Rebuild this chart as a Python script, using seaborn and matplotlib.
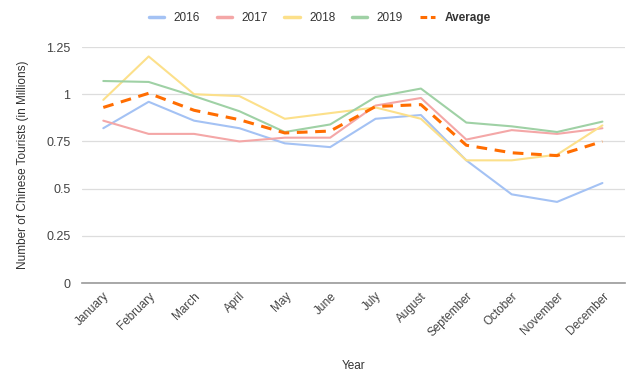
import pandas as pd
import numpy as np
import matplotlib
matplotlib.use("Agg")
import matplotlib.pyplot as plt
import seaborn as sns
from matplotlib.ticker import FuncFormatter

months = ["January", "February", "March", "April", "May", "June", "July",
          "August", "September", "October", "November", "December"]
y2016 = [0.82, 0.96, 0.86, 0.82, 0.74, 0.72, 0.87, 0.89, 0.65, 0.47, 0.43, 0.53]
y2017 = [0.86, 0.79, 0.79, 0.75, 0.77, 0.77, 0.94, 0.98, 0.76, 0.81, 0.79, 0.82]
y2018 = [0.97, 1.20, 1.00, 0.99, 0.87, 0.90, 0.93, 0.87, 0.65, 0.65, 0.68, 0.835]
y2019 = [1.07, 1.065, 0.99, 0.91, 0.80, 0.84, 0.985, 1.03, 0.85, 0.83, 0.80, 0.855]
average = [0.93, 1.005, 0.915, 0.865, 0.795, 0.805, 0.935, 0.945, 0.73, 0.69, 0.675, 0.75]

series = {"2016": y2016, "2017": y2017, "2018": y2018, "2019": y2019, "Average": average}
colors = {"2016": "#a4c2f4", "2017": "#f4a7a7", "2018": "#fce08a",
          "2019": "#9fd1a5", "Average": "#ff6d01"}

rows = []
for name, vals in series.items():
    for i, v in enumerate(vals):
        rows.append({"month": i, "value": v, "series": name})
df = pd.DataFrame(rows)

sns.set_style("white")
plt.rcParams["font.family"] = ["Liberation Sans", "DejaVu Sans"]

fig = plt.figure(figsize=(6.27, 3.76), dpi=100)
ax = fig.add_axes([0.13, 0.247, 0.867, 0.628])

# yearly lines
years = df[df["series"] != "Average"]
sns.lineplot(data=years, x="month", y="value", hue="series", palette=colors,
             linewidth=1.5, ax=ax, legend=False)
# average dashed
sns.lineplot(data=df[df["series"] == "Average"], x="month", y="value",
             color=colors["Average"], linewidth=2.2, ax=ax, legend=False,
             linestyle=(0, (3.5, 2.5)))

ax.set_xlim(-0.48, 11.5)
ax.set_ylim(0, 1.25)
ax.set_yticks([0, 0.25, 0.5, 0.75, 1, 1.25])
ax.yaxis.set_major_formatter(FuncFormatter(lambda v, p: f"{v:g}"))
ax.set_xticks(range(12))
ax.set_xticklabels(months, rotation=45, ha="right", rotation_mode="anchor",
                   fontsize=8.5, color="#444444")
ax.tick_params(axis="y", labelsize=9, labelcolor="#444444", length=0, pad=8)
ax.tick_params(axis="x", length=0, pad=5)
ax.grid(axis="y", color="#dddddd", linewidth=0.9)
ax.set_axisbelow(True)
for s in ["top", "right", "left"]:
    ax.spines[s].set_visible(False)
ax.spines["bottom"].set_color("#999999")
ax.spines["bottom"].set_linewidth(1.2)

ax.set_xlabel("Year", fontsize=8.5, color="#333333", labelpad=15)
ax.set_ylabel("Number of Chinese Tourists (in Millions)", fontsize=8.5,
              color="#333333", labelpad=12)

# legend
handles = []
labels = []
for name in series:
    if name == "Average":
        h, = ax.plot([], [], color=colors[name], linewidth=2.2, linestyle=(0, (2.2, 1.2)))
    else:
        h, = ax.plot([], [], color=colors[name], linewidth=2.5)
    handles.append(h)
    labels.append(name)
leg = fig.legend(handles, labels, loc="center", bbox_to_anchor=(0.51, 0.952), ncol=5,
                 frameon=False, fontsize=8.5, handlelength=1.3, columnspacing=1.4,
                 handletextpad=0.8)
for t in leg.get_texts():
    t.set_color("#333333")
leg.get_texts()[-1].set_fontweight("bold")

fig.savefig("out.png", dpi=100)
